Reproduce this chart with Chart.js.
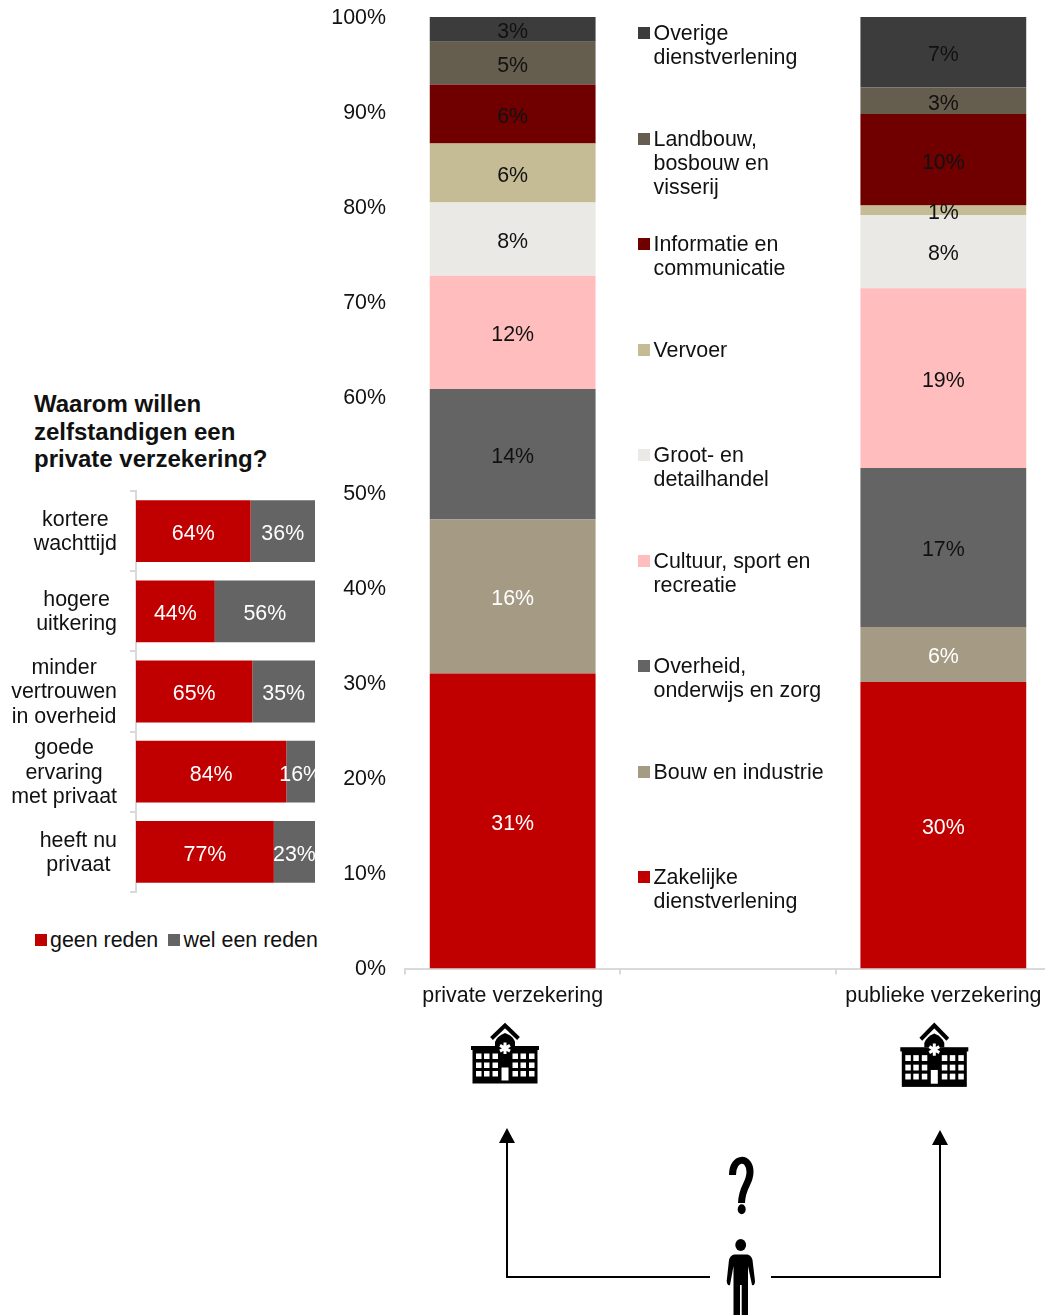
<!DOCTYPE html>
<html>
<head>
<meta charset="utf-8">
<title>Verzekering zelfstandigen</title>
<script src="https://cdn.jsdelivr.net/npm/chart.js@4"></script>
<style>
	html, body { margin: 0; padding: 0; background: #fff; overflow: hidden; }
	body { width: 1045px; height: 1315px; position: relative; font-family: "Liberation Sans", Arial, sans-serif; color: #111; }
	canvas { position: absolute; }
	#mainChart { left: 320px; top: 0; }
	#reasonChart { left: 0; top: 480px; }
	#title { position: absolute; left: 34px; top: 390px; font-weight: bold; font-size: 24px; line-height: 27.5px; }
	.legend-item { position: absolute; font-size: 21.4px; line-height: 24.3px; white-space: nowrap; }
	.legend-item i { position: absolute; width: 12px; height: 12px; }
	#icons { position: absolute; left: 0; top: 0; }
</style>
</head>
<body>
<canvas id="mainChart" width="731" height="1015"></canvas>
<canvas id="reasonChart" width="330" height="420"></canvas>
<div id="title">Waarom willen<br>zelfstandigen een<br>private verzekering?</div>
<div id="legends"></div>
<svg id="icons" width="1045" height="1315"></svg>
<script>
const insuranceTypes = ["private verzekering", "", "publieke verzekering"];
const sectorNames = ["Zakelijke dienstverlening", "Bouw en industrie", "Overheid, onderwijs en zorg", "Cultuur, sport en recreatie", "Groot- en detailhandel", "Vervoer", "Informatie en communicatie", "Landbouw, bosbouw en visserij", "Overige dienstverlening"];
const sectorLines = [["Zakelijke", "dienstverlening"], ["Bouw en industrie"], ["Overheid,", "onderwijs en zorg"], ["Cultuur, sport en", "recreatie"], ["Groot- en", "detailhandel"], ["Vervoer"], ["Informatie en", "communicatie"], ["Landbouw,", "bosbouw en", "visserij"], ["Overige", "dienstverlening"]];
const privateShares = [31.0, 16.2, 13.7, 11.9, 7.7, 6.2, 6.2, 4.5, 2.6];
const publicShares = [30.1, 5.8, 16.7, 18.9, 7.7, 1.0, 9.6, 2.8, 7.4];
const sectorColors = ["#c00000", "#a59b85", "#646464", "#ffbdbd", "#ebe9e5", "#c5bb95", "#700000", "#655d4e", "#3c3c3c"];
const sectorLabelColors = ["#fff", "#fff", "#111", "#111", "#111", "#111", "#111", "#111", "#111"];

const reasonLabels = [["kortere", "wachttijd"], ["hogere", "uitkering"], ["minder", "vertrouwen", "in overheid"], ["goede", "ervaring", "met privaat"], ["heeft nu", "privaat"]];
const noReason = [64, 44, 65, 84, 77];
const yesReason = [36, 56, 35, 16, 23];
const reasonNames = ["geen reden", "wel een reden"];
const reasonColors = ["#c00000", "#646464"];

const font = "Liberation Sans";
const fontSize = 21.4;
const textColor = "#111";
const axisColor = "#d9d9d9";

// value labels in the middle of each bar, cut off at the plot edge like the original
const barLabels = {
	id: "barLabels",
	afterDatasetsDraw(chart) {
		const ctx = chart.ctx;
		const area = chart.chartArea;
		ctx.save();
		ctx.beginPath();
		ctx.rect(area.left, area.top, area.width, area.height);
		ctx.clip();
		ctx.font = `${fontSize}px "${font}"`;
		ctx.textAlign = "center";
		ctx.textBaseline = "middle";
		chart.data.datasets.forEach((dataset, i) => {
			chart.getDatasetMeta(i).data.forEach((bar, j) => {
				const value = dataset.data[j];
				if (!value) return;
				const pos = bar.getCenterPoint();
				ctx.fillStyle = dataset.labelColor;
				ctx.fillText(Math.round(value) + "%", pos.x, pos.y + 3);
			});
		});
		ctx.restore();
	}
};

// category labels: centred lines in a block that is right aligned against the axis
const blockLabels = {
	id: "blockLabels",
	afterDraw(chart) {
		const ctx = chart.ctx;
		const scale = chart.scales.y;
		ctx.save();
		ctx.font = `${fontSize}px "${font}"`;
		ctx.textAlign = "center";
		ctx.textBaseline = "middle";
		ctx.fillStyle = textColor;
		chart.data.labels.forEach((lines, i) => {
			const widest = Math.max(...lines.map(x => ctx.measureText(x).width));
			const y = scale.getPixelForTick(i) + 1;
			lines.forEach((line, n) => {
				ctx.fillText(line, 117 - widest / 2, y + (n - (lines.length - 1) / 2) * 24.3);
			});
		});
		ctx.restore();
	}
};

new Chart(document.getElementById("mainChart"), {
	type: "bar",
	data: {
		labels: insuranceTypes,
		datasets: sectorNames.map((name, i) => ({
			label: name,
			data: [privateShares[i], null, publicShares[i]],
			backgroundColor: sectorColors[i],
			labelColor: sectorLabelColors[i],
			barPercentage: 1,
			categoryPercentage: 0.77
		}))
	},
	options: {
		responsive: false,
		animation: false,
		layout: { padding: { top: 17 } },
		plugins: { legend: { display: false }, tooltip: { enabled: false } },
		scales: {
			x: {
				stacked: true,
				border: { color: axisColor, width: 2 },
				grid: { drawOnChartArea: false, color: axisColor, lineWidth: 2, tickLength: 6 },
				ticks: { color: textColor, font: { family: font, size: fontSize }, padding: 9, maxRotation: 0, autoSkip: false },
				afterFit(scale) {
					scale.height = 46.5;
					scale.paddingLeft = scale.paddingRight = 0;
				}
			},
			y: {
				stacked: true,
				min: 0,
				max: 100,
				border: { display: false },
				grid: { display: false, drawTicks: false },
				ticks: { stepSize: 10, color: textColor, font: { family: font, size: fontSize }, padding: 19, labelOffset: 1, callback: v => v + "%" },
				afterFit(scale) {
					scale.width = 85;
					scale.paddingTop = scale.paddingBottom = 0;
				}
			}
		}
	},
	plugins: [barLabels]
});

new Chart(document.getElementById("reasonChart"), {
	type: "bar",
	data: {
		labels: reasonLabels,
		datasets: [noReason, yesReason].map((values, i) => ({
			label: reasonNames[i],
			data: values,
			backgroundColor: reasonColors[i],
			labelColor: "#fff",
			barPercentage: 1,
			categoryPercentage: 0.77
		}))
	},
	options: {
		indexAxis: "y",
		responsive: false,
		animation: false,
		layout: { padding: { top: 11, bottom: 8, right: 15 } },
		plugins: { legend: { display: false }, tooltip: { enabled: false } },
		scales: {
			x: { stacked: true, display: false, min: 0, max: 100 },
			y: {
				stacked: true,
				border: { color: axisColor, width: 2 },
				grid: { drawOnChartArea: false, color: axisColor, lineWidth: 2, tickLength: 6 },
				ticks: { display: false },
				afterFit(scale) { scale.width = 136; }
			}
		}
	},
	plugins: [barLabels, blockLabels]
});

// legends
const legends = document.getElementById("legends");
const addLegend = function(lines, color, x, y) {
	const item = document.createElement("div");
	item.className = "legend-item";
	item.style.left = (x + 15.5) + "px";
	item.style.top = (y - 12) + "px";
	item.innerHTML = `<i style="left:-15.5px;top:6px;background:${color}"></i>${lines.join("<br>")}`;
	legends.append(item);
}
for (let i = 0; i < sectorNames.length; i++) {
	addLegend(sectorLines[i], sectorColors[i], 638, 33 + (sectorNames.length - 1 - i) * 105.5);
}
addLegend([reasonNames[0]], reasonColors[0], 34.5, 940);
addLegend([reasonNames[1]], reasonColors[1], 168, 940);

// pictograms and arrows under the chart
const hospital = function(dx, stretch) {
	let cells = "";
	for (let x of [476, 484, 492.5, 512.5, 520.5, 529]) {
		for (let y of [1053.5, 1062.5, 1071]) {
			cells += `<rect x="${x}" y="${y}" width="5.5" height="5.5" fill="#fff"/>`;
		}
	}
	return `<g transform="translate(${dx} 1025) scale(1 ${stretch}) translate(0 -1025)">
		<path d="M491.5 1038.5 L505 1025.5 L518.5 1038.5" fill="none" stroke="#000" stroke-width="4"/>
		<path d="M495 1046 V1042 Q497 1036 505 1033 Q513 1036 515 1042 V1046 Z" fill="#000"/>
		<rect x="471" y="1046" width="68" height="4" fill="#000"/>
		<rect x="472.5" y="1049" width="65" height="34.5" fill="#000"/>
		${cells}
		<rect x="501.5" y="1067.5" width="7" height="13" fill="#fff"/>
		<path d="M505 1042.5 V1054 M500 1045.4 L510 1051.1 M510 1045.4 L500 1051.1" stroke="#fff" stroke-width="3"/>
	</g>`;
}
document.getElementById("icons").innerHTML = `
	${hospital(0, 1)}
	${hospital(429.3, 1.058)}
	<path d="M507 1143 V1277 H710 M771 1277 H940 V1145" fill="none" stroke="#000" stroke-width="2"/>
	<path d="M507 1128 L515 1143 H499 Z M940 1130 L948 1145 H932 Z" fill="#000"/>
	<path d="M732.5 1175 C732.5 1156 750 1156 750 1172 C750 1184 742 1186 741.5 1203" fill="none" stroke="#000" stroke-width="7"/>
	<ellipse cx="741.7" cy="1209.3" rx="4" ry="5" fill="#000"/>
	<ellipse cx="740.7" cy="1245" rx="5.4" ry="6" fill="#000"/>
	<path d="M734 1254.5 H747.5 Q751.5 1255.5 752.5 1260 L755 1281 Q755 1286 752 1285 L748 1266 V1315 H741.7 V1285 H740 V1315 H733.5 V1266 L730 1285 Q727 1286 726.7 1281 L729 1260 Q730 1255.5 734 1254.5 Z" fill="#000"/>`;
</script>
</body>
</html>
